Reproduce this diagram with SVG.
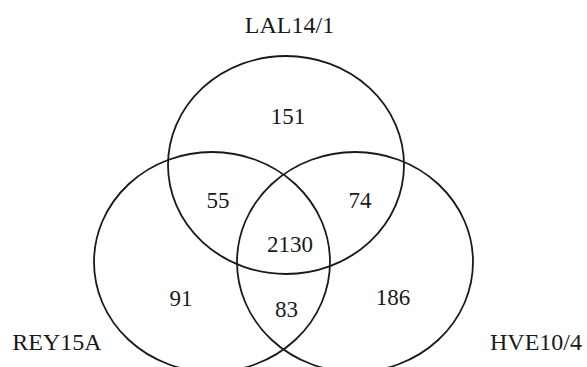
<svg xmlns="http://www.w3.org/2000/svg" width="587" height="367" viewBox="0 0 587 367">
<style>
.set{fill:none;stroke:#1a1a1a;stroke-width:1.8}
.t{font-family:"Liberation Serif","Times New Roman",serif;font-size:23px;fill:#1a1a1a;text-anchor:middle}
.lbl{font-size:24px}
</style>
<rect width="587" height="367" fill="#fff"/>
<g id="set-LAL14-1">
<ellipse class="set" cx="286" cy="165" rx="118" ry="109"/>
<text class="t lbl" x="289.5" y="33">LAL14/1</text>
</g>
<g id="set-REY15A">
<ellipse class="set" cx="212" cy="262" rx="118" ry="110"/>
<text class="t lbl" x="57" y="350">REY15A</text>
</g>
<g id="set-HVE10-4">
<ellipse class="set" cx="355" cy="262" rx="118" ry="110"/>
<text class="t lbl" x="536" y="350">HVE10/4</text>
</g>
<g id="counts">
<text class="t" x="288" y="124">151</text>
<text class="t" x="218" y="208">55</text>
<text class="t" x="360" y="208">74</text>
<text class="t" x="290" y="252">2130</text>
<text class="t" x="181" y="306">91</text>
<text class="t" x="286.5" y="317">83</text>
<text class="t" x="393" y="305">186</text>
</g>
<g id="connectors"></g>
</svg>
